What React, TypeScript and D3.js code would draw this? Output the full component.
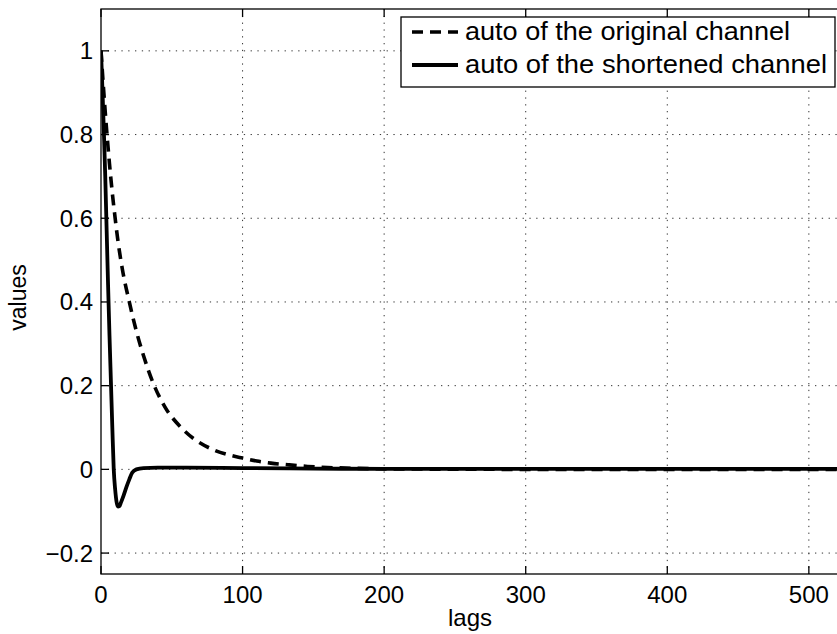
import React from "react";
import * as d3 from "d3";

const lagsOriginal = [0, 2, 4, 6, 8, 10, 12, 15, 20, 25, 30, 37, 45, 56, 66, 80, 92, 100, 110, 120, 132, 146, 160, 180, 200, 250, 300, 400, 522];
const valuesOriginal = [1.0, 0.9, 0.81, 0.73, 0.66, 0.6, 0.545, 0.48, 0.4, 0.33, 0.272, 0.205, 0.15, 0.102, 0.072, 0.046, 0.033, 0.027, 0.02, 0.015, 0.011, 0.007, 0.0045, 0.0025, 0.0012, 0.0005, 0.0, 0.0, 0.0];

const lagsShortened = [0, 1, 2, 3, 4, 5, 6, 7, 8, 9, 10, 11, 12, 13, 14, 16, 18, 20, 22, 25, 30, 40, 60, 100, 150, 200, 300, 400, 522];
const valuesShortened = [1.0, 0.91, 0.81, 0.7, 0.57, 0.44, 0.32, 0.21, 0.1, 0.0, -0.048, -0.078, -0.089, -0.088, -0.08, -0.062, -0.042, -0.024, -0.008, 0.0, 0.003, 0.004, 0.004, 0.003, 0.002, 0.001, 0.001, 0.001, 0.001];

const xTicks = [0, 100, 200, 300, 400, 500];
const yTicks = [-0.2, 0, 0.2, 0.4, 0.6, 0.8, 1];
const legendLabels = ["auto of the original channel", "auto of the shortened channel"];
const xLabel = "lags";
const yLabel = "values";

const W = 837;
const H = 634;
const L = 101, R = 840, T = 9, B = 574;
const FONT = "'Liberation Sans', Arial, Helvetica, sans-serif";

function fmtY(v: number) {
  if (v === 0) return "0";
  if (v === 1) return "1";
  const s = String(Math.abs(v));
  return (v < 0 ? "\u2212" : "") + s;
}

export default function App() {
  const x = d3.scaleLinear().domain([0, 522]).range([L, R]);
  const y = d3.scaleLinear().domain([-0.25, 1.1]).range([B, T]);

  const line = d3
    .line<[number, number]>()
    .x((d) => x(d[0]))
    .y((d) => y(d[1]))
    .curve(d3.curveMonotoneX);

  const orig = lagsOriginal.map((l, i) => [l, valuesOriginal[i]] as [number, number]);
  const short = lagsShortened.map((l, i) => [l, valuesShortened[i]] as [number, number]);

  const tickLen = 8;
  const gridStyle = { stroke: "#333", strokeWidth: 1, strokeDasharray: "1.3 5.5" };

  return (
    <svg
      width={W}
      height={H}
      style={{ position: "absolute", left: 0, top: 0, background: "#fff" }}
      fontFamily={FONT}
    >
      <defs>
        <clipPath id="plotclip">
          <rect x={L} y={T} width={R - L} height={B - T} />
        </clipPath>
      </defs>
      <rect x={0} y={0} width={W} height={H} fill="#fff" />
      {xTicks.filter((t) => t !== 0).map((t) => (
        <line key={"gx" + t} x1={x(t)} x2={x(t)} y1={T} y2={B} {...gridStyle} />
      ))}
      {yTicks.map((t) => (
        <line key={"gy" + t} x1={L} x2={R} y1={y(t)} y2={y(t)} {...gridStyle} />
      ))}
      <g clipPath="url(#plotclip)">
        <path d={line(orig) || ""} fill="none" stroke="#000" strokeWidth={3.6} strokeDasharray="11 7" />
        <path d={line(short) || ""} fill="none" stroke="#000" strokeWidth={3.8} strokeLinejoin="round" />
      </g>
      <rect x={L} y={T} width={R - L} height={B - T} fill="none" stroke="#000" strokeWidth={1.3} />
      {xTicks.map((t) => (
        <g key={"tx" + t}>
          <line x1={x(t)} x2={x(t)} y1={B} y2={B - tickLen} stroke="#000" strokeWidth={1.3} />
          <line x1={x(t)} x2={x(t)} y1={T} y2={T + tickLen} stroke="#000" strokeWidth={1.3} />
          <text x={x(t)} y={603} textAnchor="middle" fontSize={24} fill="#000">
            {String(t)}
          </text>
        </g>
      ))}
      {yTicks.map((t) => (
        <g key={"ty" + t}>
          <line x1={L} x2={L + tickLen} y1={y(t)} y2={y(t)} stroke="#000" strokeWidth={1.3} />
          <text x={93} y={y(t) + 8.5} textAnchor="end" fontSize={24} fill="#000">
            {fmtY(t)}
          </text>
        </g>
      ))}
      <rect x={401} y={17} width={434} height={70} fill="#fff" stroke="#000" strokeWidth={1.3} />
      <line x1={412} x2={458} y1={32} y2={32} stroke="#000" strokeWidth={3.6} strokeDasharray="11 7" />
      <text x={465} y={40} fontSize={26} fill="#000" textLength={325} lengthAdjust="spacingAndGlyphs">
        {legendLabels[0]}
      </text>
      <line x1={412} x2={458} y1={65} y2={65} stroke="#000" strokeWidth={3.8} />
      <text x={465} y={73} fontSize={26} fill="#000" textLength={362} lengthAdjust="spacingAndGlyphs">
        {legendLabels[1]}
      </text>
      <text x={470} y={626} textAnchor="middle" fontSize={24} fill="#000">
        {xLabel}
      </text>
      <text
        transform={`translate(26, ${(T + B) / 2 + 6}) rotate(-90)`}
        textAnchor="middle"
        fontSize={23}
        fill="#000"
      >
        {yLabel}
      </text>
    </svg>
  );
}
